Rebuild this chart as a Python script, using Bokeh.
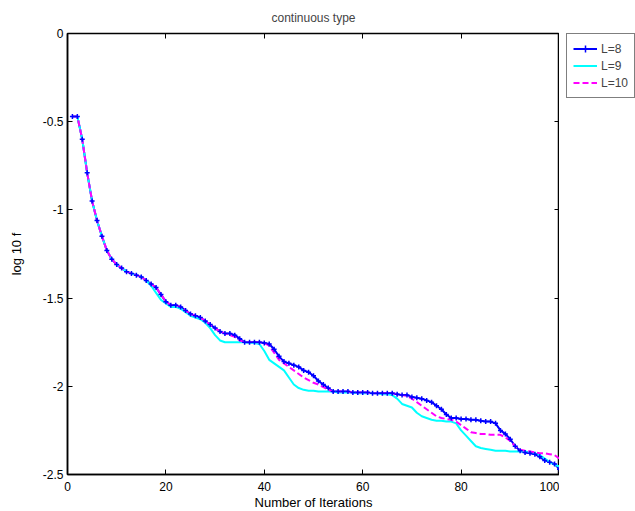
from bokeh.plotting import figure
from bokeh.layouts import row
from bokeh.models import Range1d, FixedTicker, LinearAxis, Legend, LegendItem
from bokeh.embed import file_html
from bokeh.resources import INLINE

iterations = list(range(1, 101))

loss_L8 = [-0.47, -0.47, -0.60, -0.79, -0.95, -1.06, -1.15, -1.23, -1.28, -1.31,
           -1.33, -1.35, -1.36, -1.37, -1.38, -1.40, -1.42, -1.44, -1.48, -1.52,
           -1.54, -1.54, -1.55, -1.57, -1.59, -1.60, -1.61, -1.63, -1.65, -1.67,
           -1.69, -1.70, -1.70, -1.71, -1.73, -1.75, -1.75, -1.75, -1.75, -1.755,
           -1.76, -1.79, -1.83, -1.86, -1.87, -1.88, -1.89, -1.91, -1.92, -1.94,
           -1.97, -1.99, -2.01, -2.03, -2.03, -2.03, -2.03, -2.035, -2.035, -2.035,
           -2.035, -2.04, -2.04, -2.04, -2.04, -2.04, -2.045, -2.05, -2.05, -2.06,
           -2.065, -2.07, -2.08, -2.09, -2.11, -2.13, -2.16, -2.18, -2.18, -2.185,
           -2.185, -2.19, -2.19, -2.195, -2.20, -2.20, -2.21, -2.25, -2.27, -2.30,
           -2.34, -2.365, -2.375, -2.38, -2.385, -2.40, -2.42, -2.43, -2.44, -2.47]

loss_L9 = [-0.47, -0.47, -0.60, -0.79, -0.95, -1.06, -1.15, -1.23, -1.28, -1.31,
           -1.33, -1.35, -1.36, -1.37, -1.38, -1.40, -1.43, -1.47, -1.51, -1.53,
           -1.55, -1.55, -1.56, -1.58, -1.60, -1.61, -1.62, -1.64, -1.67, -1.71,
           -1.74, -1.75, -1.75, -1.75, -1.75, -1.75, -1.755, -1.755, -1.76, -1.80,
           -1.85, -1.87, -1.89, -1.91, -1.95, -1.99, -2.01, -2.02, -2.025, -2.025,
           -2.03, -2.03, -2.03, -2.03, -2.035, -2.035, -2.035, -2.035, -2.04, -2.04,
           -2.04, -2.04, -2.04, -2.045, -2.045, -2.05, -2.07, -2.10, -2.11, -2.12,
           -2.15, -2.17, -2.18, -2.19, -2.195, -2.195, -2.20, -2.20, -2.21, -2.25,
           -2.28, -2.31, -2.34, -2.35, -2.355, -2.36, -2.365, -2.365, -2.365, -2.37,
           -2.37, -2.37, -2.37, -2.375, -2.38, -2.39, -2.41, -2.43, -2.445, -2.455]

loss_L10 = [-0.47, -0.47, -0.60, -0.79, -0.95, -1.06, -1.15, -1.23, -1.28, -1.31,
            -1.33, -1.35, -1.36, -1.37, -1.38, -1.40, -1.42, -1.44, -1.48, -1.52,
            -1.54, -1.54, -1.55, -1.57, -1.59, -1.60, -1.61, -1.63, -1.65, -1.67,
            -1.69, -1.70, -1.71, -1.72, -1.74, -1.75, -1.75, -1.75, -1.75, -1.755,
            -1.77, -1.81, -1.85, -1.87, -1.89, -1.91, -1.93, -1.95, -1.965, -1.98,
            -1.99, -2.005, -2.02, -2.03, -2.03, -2.03, -2.03, -2.035, -2.035, -2.035,
            -2.035, -2.04, -2.04, -2.04, -2.04, -2.04, -2.045, -2.05, -2.055, -2.07,
            -2.09, -2.11, -2.13, -2.15, -2.17, -2.18, -2.185, -2.19, -2.20, -2.22,
            -2.24, -2.26, -2.265, -2.27, -2.27, -2.275, -2.275, -2.275, -2.29, -2.31,
            -2.34, -2.36, -2.365, -2.37, -2.375, -2.38, -2.38, -2.385, -2.39, -2.41]

x_ticks = [0, 20, 40, 60, 80, 100]
y_ticks = [0, -0.5, -1, -1.5, -2, -2.5]
y_tick_labels = ["0", "-0.5", "-1", "-1.5", "-2", "-2.5"]
series_labels = ["L=8", "L=9", "L=10"]
series_colors = ["#0000FF", "#00FFFF", "#FF00FF"]

FONT = "Liberation Sans"

p = figure(frame_width=492, frame_height=441, output_backend="svg", toolbar_location=None,
           x_range=Range1d(0, 100), y_range=Range1d(-2.5, 0),
           min_border_left=67, min_border_right=0, min_border_top=32,
           min_border_bottom=0,
           title="continuous type", x_axis_label="Number of Iterations",
           y_axis_label="log 10 f")

p.title.align = "center"
p.title.text_font = FONT
p.title.text_font_size = "12px"
p.title.text_font_style = "normal"
p.title.offset = 0
p.title.standoff = 17

p.grid.visible = False
p.outline_line_color = "black"
p.outline_line_width = 1.5
p.background_fill_color = "white"
p.border_fill_color = "white"

p.xaxis.ticker = FixedTicker(ticks=x_ticks)
p.yaxis.ticker = FixedTicker(ticks=y_ticks)
p.yaxis.major_label_overrides = {v: s for v, s in zip(y_ticks, y_tick_labels)}

for ax in (p.xaxis[0], p.yaxis[0]):
    ax.major_tick_in = 5
    ax.major_tick_out = 0
    ax.minor_tick_line_color = None
    ax.axis_line_color = "black"
    ax.axis_line_width = 1.5
    ax.major_label_text_font = FONT
    ax.major_label_text_font_size = "12px"
    ax.major_label_text_color = "black"
    ax.axis_label_text_font = FONT
    ax.axis_label_text_font_size = "13px"
    ax.axis_label_text_font_style = "normal"
    ax.axis_label_text_color = "black"

p.xaxis.major_label_standoff = 7
p.xaxis.axis_label_standoff = 1
p.yaxis.major_label_standoff = 4
p.yaxis.axis_label_standoff = 16

top_ax = LinearAxis(ticker=FixedTicker(ticks=x_ticks),
                    major_label_overrides={t: "" for t in x_ticks},
                    major_tick_in=5, major_tick_out=0, minor_tick_line_color=None,
                    axis_line_color="black", major_label_standoff=0)
right_ax = LinearAxis(ticker=FixedTicker(ticks=y_ticks),
                      major_label_overrides={t: "" for t in y_ticks},
                      major_tick_in=5, major_tick_out=0, minor_tick_line_color=None,
                      axis_line_color="black", major_label_standoff=0)
p.add_layout(top_ax, "above")
p.add_layout(right_ax, "right")

series = [loss_L8, loss_L9, loss_L10]
dashes = ["solid", "solid", "6 3"]
for ys, c, d in zip(series, series_colors, dashes):
    p.line(iterations, ys, line_color=c, line_width=2, line_dash=d)
p.scatter(iterations, loss_L8, marker="cross", size=5, line_color=series_colors[0],
          line_width=1.5)

# legend panel to the right of the axes box
q = figure(width=76, height=500, output_backend="svg", toolbar_location=None,
           x_axis_location=None, y_axis_location=None,
           min_border_left=7, min_border_top=31, min_border_right=0, min_border_bottom=0,
           x_range=Range1d(0, 100), y_range=Range1d(-2.5, 0))
q.grid.visible = False
q.outline_line_color = None
q.background_fill_color = "white"
q.border_fill_color = "white"

items = []
for i, (ys, c, d, lab) in enumerate(zip(series, series_colors, dashes, series_labels)):
    rs = [q.line(iterations, ys, line_color=c, line_width=2, line_dash=d, visible=False)]
    if i == 0:
        rs.append(q.scatter(iterations, ys, marker="cross", size=5, line_color=c,
                            line_width=1.5, visible=False))
    items.append(LegendItem(label=lab, renderers=rs))

legend = Legend(items=items, location="top_left", orientation="vertical")
legend.margin = 0
legend.padding = 6
legend.spacing = 0
legend.label_text_font = FONT
legend.label_text_font_size = "12px"
legend.glyph_width = 24
legend.glyph_height = 17
legend.label_height = 17
legend.label_standoff = 4
legend.border_line_color = "black"
legend.border_line_width = 1
legend.background_fill_alpha = 1
legend.inactive_fill_alpha = 0
legend.click_policy = "none"
q.add_layout(legend, "center")

layout = row(p, q)
open("out.html", "w").write(file_html(layout, INLINE))
